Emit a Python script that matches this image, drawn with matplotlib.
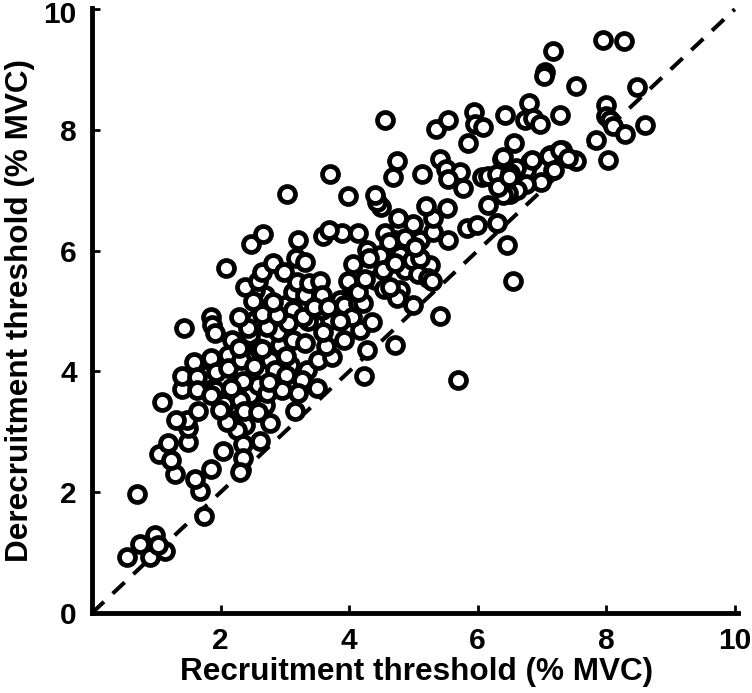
import numpy as np
import matplotlib
matplotlib.use("Agg")
import matplotlib.pyplot as plt
from matplotlib.transforms import ScaledTranslation

# values, (% MVC)
# rings mostly hidden in the dense part
recruit_low = [2.22,2.46,2.53,2.18,2.77,2.92,2.85,2.46,2.58,2.22,2.38,2.69,3.08,3.13,2.53,3.00,3.13,3.47,3.70,3.58,
               2.69,2.53,2.12,1.76,1.91,2.30,2.26,2.30,4.40,4.79,4.87,4.67,4.79,4.48,4.04,3.86,4.17,4.71,5.26,5.10]
derecruit_low = [3.69,4.60,4.27,4.52,4.19,4.44,4.02,3.61,3.77,3.44,3.11,3.44,4.11,4.52,4.85,5.10,5.02,4.85,4.85,5.02,
                 5.26,5.35,4.27,3.94,3.69,3.53,3.03,3.99,5.51,5.35,5.68,6.01,5.93,5.93,5.35,5.18,4.69,6.18,5.76,6.18]
recruit = [0.54,0.75,0.98,0.90,1.14,1.03,0.70,1.74,1.68,1.60,1.85,1.04,1.29,1.23,1.18,1.49,1.49,1.48,1.31,1.09,
           1.40,1.40,1.43,1.59,1.63,1.63,1.65,1.85,1.85,1.87,1.91,2.08,2.04,2.32,2.35,2.61,2.35,2.30,2.77,2.10,
           1.93,2.12,2.32,2.52,2.35,2.16,1.85,2.05,1.99,2.36,2.58,2.29,2.58,2.64,3.02,3.02,3.34,3.50,3.27,3.20,
           3.16,2.72,2.95,2.75,3.51,3.73,3.64,3.31,3.92,3.59,2.89,2.43,2.29,2.72,3.05,3.36,3.28,2.64,2.88,2.50,
           2.81,2.38,2.58,2.64,2.47,2.66,3.20,3.17,3.31,2.81,2.99,3.13,3.19,3.31,3.37,3.55,3.58,3.45,3.67,3.92,
           4.06,3.98,4.11,4.04,3.86,4.14,4.21,4.35,4.28,4.71,5.41,4.99,4.74,4.54,4.63,4.14,4.25,4.53,4.71,4.98,
           5.10,5.07,5.23,5.29,4.28,4.31,3.89,4.14,4.56,4.62,4.87,5.02,5.30,5.54,5.30,5.19,5.52,4.99,4.76,4.49,
           4.43,4.40,3.98,3.70,3.03,3.60,3.68,4.74,4.68,4.56,5.41,5.13,5.51,5.72,5.54,5.77,6.07,6.16,6.30,6.38,
           6.45,6.16,6.30,6.45,6.55,5.83,5.99,5.69,4.23,5.35,5.54,5.94,5.96,6.08,5.85,6.42,6.56,6.39,6.80,6.73,
           6.86,6.97,7.28,7.05,7.03,7.17,7.53,7.95,8.27,8.48,7.99,7.99,8.06,8.10,8.29,8.60,7.84,8.03,7.51,7.31,
           7.25,7.26,7.12,7.17,6.98,6.81,6.75,6.75,6.59,6.50,6.50,6.61,
           6.84,7.11,7.28,7.19,7.53,7.40,6.47,6.39,6.31,6.49]
derecruit = [0.93,1.14,1.29,0.93,1.03,1.13,1.97,1.61,2.02,2.22,2.38,2.63,2.30,2.53,2.81,2.83,3.06,3.20,3.20,3.49,
             3.71,3.92,4.72,4.16,3.91,3.69,3.34,4.22,4.90,4.77,4.64,5.71,2.68,2.37,2.80,2.85,2.57,2.33,3.15,3.16,
             3.99,4.06,4.19,4.09,3.84,3.73,3.61,3.46,3.36,3.34,3.33,4.39,4.39,4.37,4.25,3.94,4.02,3.73,3.86,3.64,
             3.34,3.64,3.69,3.82,4.19,4.24,4.42,4.47,4.52,4.65,4.65,4.72,4.90,4.74,4.80,4.83,4.90,4.95,4.93,5.17,
             5.15,5.40,5.50,5.65,6.11,6.27,6.18,5.88,5.81,5.79,5.65,5.31,5.48,5.26,5.46,5.50,5.26,5.07,5.07,5.10,
             5.78,5.50,5.30,4.90,4.83,5.13,5.13,4.82,4.35,4.44,4.92,5.10,5.22,5.36,5.40,5.31,5.53,5.68,5.79,5.84,
             5.88,5.61,5.55,5.50,6.01,5.88,6.29,6.29,6.29,6.14,6.21,6.06,6.31,6.18,6.54,6.74,6.71,6.44,6.54,6.72,
             6.80,6.92,6.90,7.27,6.94,6.25,6.35,7.48,7.22,8.16,7.52,7.27,7.35,7.30,7.19,7.04,7.22,7.24,7.27,7.52,
             6.97,6.75,6.46,6.09,5.50,6.37,6.42,3.86,3.92,8.01,8.16,8.29,8.10,8.05,7.78,8.25,7.78,7.55,8.44,8.16,
             8.20,8.10,8.25,8.96,8.89,9.30,8.73,9.49,9.47,8.71,8.41,8.23,8.16,8.06,7.93,8.08,7.83,7.50,7.50,7.67,
             7.63,7.53,7.58,7.33,7.14,7.47,7.33,7.10,7.37,7.28,6.94,7.00,
             7.50,7.57,7.67,7.33,7.48,7.53,6.95,6.92,7.05,7.22]
unity = [0, 10]
ticks = [2, 4, 6, 8, 10]
ytick_vals = [0, 2, 4, 6, 8, 10]

plt.rcParams['font.family'] = ['Liberation Sans', 'DejaVu Sans']
plt.rcParams['font.weight'] = 'bold'

fig = plt.figure(figsize=(7.52, 6.93), dpi=100, facecolor='w')
ax = fig.add_axes([92/752, 1-613/693, 646/752, 605/693])

ax.plot(unity, unity, color='k', lw=2.9, dashes=(4.07, 2.97), zorder=1, dash_capstyle='butt')
ax.plot(recruit_low + recruit, derecruit_low + derecruit, 'o', ms=11.5, mew=3.4, mec='k', mfc='w',
        zorder=2, clip_on=False)

ax.set_xlim(0, 10.05)
ax.set_ylim(0, 10.02)
ax.set_xticks(ticks)
ax.set_yticks(ytick_vals)
ax.spines['top'].set_visible(False)
ax.spines['right'].set_visible(False)
ax.spines['left'].set_linewidth(3.5)
ax.spines['bottom'].set_linewidth(3.5)
ax.tick_params(axis='both', direction='in', length=5.5, width=2, labelsize=21.5)
ax.tick_params(axis='x', pad=10)
ax.tick_params(axis='y', pad=11)
ax.set_xlabel("Recruitment threshold (% MVC)", fontsize=22.7, fontweight='bold', labelpad=1.5, x=0.503)
ax.set_ylabel("Derecruitment threshold (% MVC)", fontsize=22.7, fontweight='bold', labelpad=6)

# keep the top label inside the figure
top_label = ax.get_yticklabels()[-1]
top_label.set_transform(top_label.get_transform() + ScaledTranslation(0, -2/72, fig.dpi_scale_trans))

fig.savefig('out.png', dpi=100)
